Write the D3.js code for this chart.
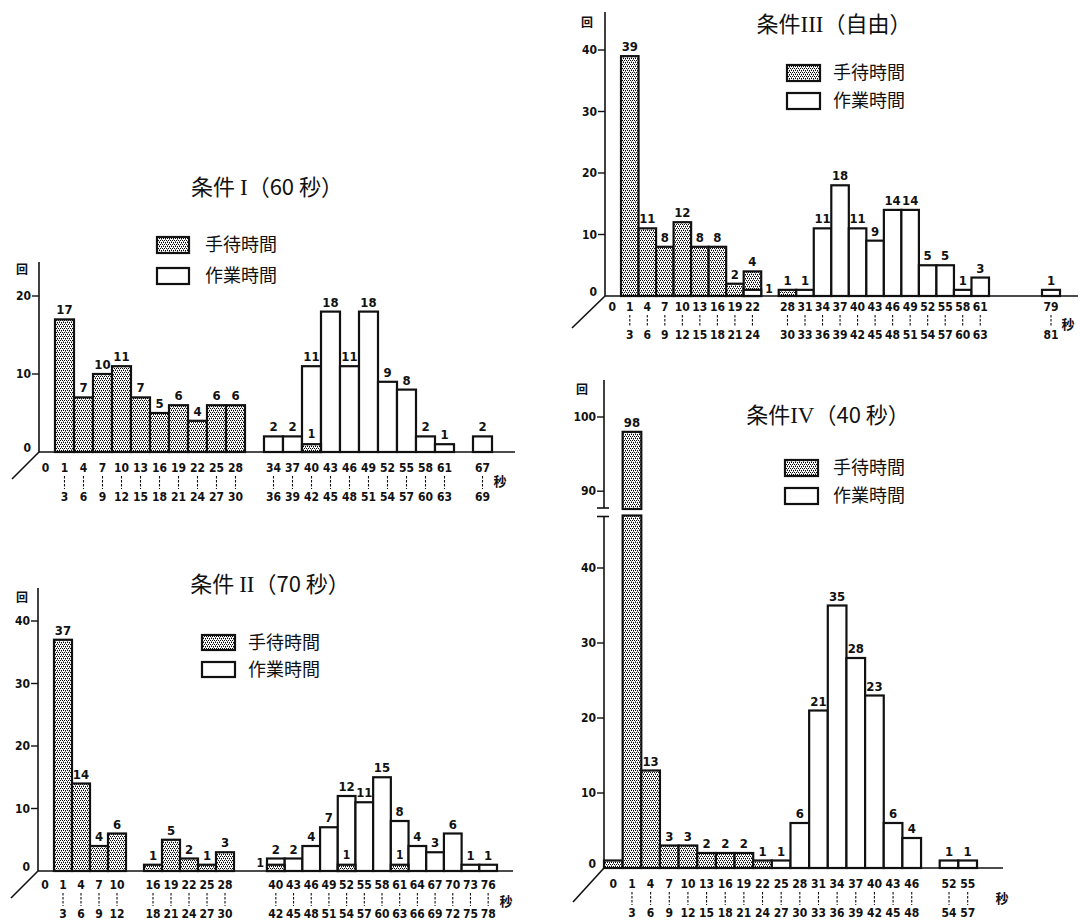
<!DOCTYPE html>
<html>
<head>
<meta charset="utf-8">
<script src="https://cdn.jsdelivr.net/npm/d3@7"></script>
<style>
  body { margin: 0; background: #fff; }
  svg { display: block; }
  .num { font-family: "Liberation Sans Narrow", "DejaVu Sans Condensed", sans-serif; font-weight: bold; fill: #111; }
  .jp  { font-family: "Noto Sans CJK JP", sans-serif; fill: #111; }
</style>
</head>
<body>
<svg id="chart" width="1080" height="921"></svg>
<script>
// Each class is identified by its first second: 0 stands alone, n covers n..n+2.
// Panel I — 60 s cycle
const binsI = [0, 1, 4, 7, 10, 13, 16, 19, 22, 25, 28, 34, 37, 40, 43, 46, 49, 52, 55, 58, 61, 67];
const waitI = [0, 17, 7, 10, 11, 7, 5, 6, 4, 6, 6, 0, 0, 1, 0, 0, 0, 0, 0, 0, 0, 0];
const workI = [0, 0, 0, 0, 0, 0, 0, 0, 0, 0, 0, 2, 2, 11, 18, 11, 18, 9, 8, 2, 1, 2];
const yTicksI = [0, 10, 20];

// Panel II — 70 s cycle
const binsII = [0, 1, 4, 7, 10, 16, 19, 22, 25, 28, 40, 43, 46, 49, 52, 55, 58, 61, 64, 67, 70, 73, 76];
const waitII = [0, 37, 14, 4, 6, 1, 5, 2, 1, 3, 1, 0, 0, 0, 1, 0, 0, 1, 0, 0, 0, 0, 0];
const workII = [0, 0, 0, 0, 0, 0, 0, 0, 0, 0, 2, 2, 4, 7, 12, 11, 15, 8, 4, 3, 6, 1, 1];
const yTicksII = [0, 10, 20, 30, 40];

// Panel III — free pace
const binsIII = [0, 1, 4, 7, 10, 13, 16, 19, 22, 28, 31, 34, 37, 40, 43, 46, 49, 52, 55, 58, 61, 79];
const waitIII = [0, 39, 11, 8, 12, 8, 8, 2, 4, 1, 0, 0, 0, 0, 0, 0, 0, 0, 0, 0, 0, 0];
const workIII = [0, 0, 0, 0, 0, 0, 0, 0, 1, 0, 1, 11, 18, 11, 9, 14, 14, 5, 5, 1, 3, 1];
const yTicksIII = [0, 10, 20, 30, 40];

// Panel IV — 40 s cycle
const binsIV = [0, 1, 4, 7, 10, 13, 16, 19, 22, 25, 28, 31, 34, 37, 40, 43, 46, 52, 55];
const waitIV = [1, 98, 13, 3, 3, 2, 2, 2, 1, 0, 0, 0, 0, 0, 0, 0, 0, 0, 0];
const workIV = [0, 0, 0, 0, 0, 0, 0, 0, 0, 1, 6, 21, 35, 28, 23, 6, 4, 1, 1];
const yTicksIV = [0, 10, 20, 30, 40, 90, 100];

const titleI   = [["条件 ", "jp"], ["I", "serif"], ["（60 秒）", "jp"]];
const titleII  = [["条件 ", "jp"], ["II", "serif"], ["（70 秒）", "jp"]];
const titleIII = [["条件", "jp"], ["III", "serif"], ["（自由）", "jp"]];
const titleIV  = [["条件", "jp"], ["IV", "serif"], ["（40 秒）", "jp"]];

const legendLabels = ["手待時間", "作業時間"];
const unitLabel = "回";
const secLabel = "秒";

const svg = d3.select("#chart");
const defs = svg.append("defs");

// fine half-tone dot fill for waiting time
const pat = defs.append("pattern")
  .attr("id", "stipple").attr("patternUnits", "userSpaceOnUse")
  .attr("width", 4).attr("height", 4);
pat.append("rect").attr("width", 4).attr("height", 4).attr("fill", "#fff");
[[0, 0], [2, 0], [1, 2], [3, 2]].forEach(([a, b]) =>
  pat.append("rect").attr("x", a).attr("y", b).attr("width", 1).attr("height", 1).attr("fill", "#000"));
[[3, 1], [1, 3]].forEach(([a, b]) =>
  pat.append("rect").attr("x", a).attr("y", b).attr("width", 1).attr("height", 1).attr("fill", "#777"));

const slotOf = s => (s === 0 ? 0 : (s + 2) / 3);

const panels = [
  { bins: binsI, wait: waitI, work: workI, yTicks: yTicksI, title: titleI,
    axisX: 39, top: 262, xDom: [0, 24], xRng: [36, 492], yDom: [0, 20], yRng: [452, 296],
    lineEnd: 515, diag: [-27, 27], titlePos: [267, 195],
    legend: { x: 157, y: [237, 268], w: 32, h: 16, tx: 205 },
    unitPos: [22, 270], secPos: [500, 481], rows: [16, 30, 45] },
  { bins: binsII, wait: waitII, work: workII, yTicks: yTicksII, title: titleII,
    axisX: 38, top: 588, xDom: [0, 11, 14, 27], xRng: [36, 234, 267, 497], yDom: [0, 40], yRng: [871, 621],
    lineEnd: 513, diag: [-27, 27], titlePos: [270, 592],
    legend: { x: 202, y: [635, 662], w: 33, h: 15, tx: 248 },
    unitPos: [22, 598], secPos: [506, 901], rows: [14, 30, 43] },
  { bins: binsIII, wait: waitIII, work: workIII, yTicks: yTicksIII, title: titleIII,
    axisX: 605, top: 12, xDom: [0, 22, 27, 28], xRng: [603.5, 989, 1042, 1060], yDom: [0, 40], yRng: [296, 50],
    lineEnd: 1078, diag: [-33, 32], titlePos: [834, 32],
    legend: { x: 787, y: [65, 93], w: 33, h: 16, tx: 833 },
    unitPos: [587, 23], secPos: [1068, 324], rows: [11, 25, 39] },
  { bins: binsIV, wait: waitIV, work: workIV, yTicks: yTicksIV, title: titleIV,
    axisX: 604, top: 380, xDom: [0, 20], xRng: [604, 977], yDom: [0, 47, 87.6, 100], yRng: [868, 515.5, 509, 417],
    yBreak: [47, 87.6],
    lineEnd: 1003, diag: [-31, 34], titlePos: [828, 423],
    legend: { x: 785, y: [460, 488], w: 33, h: 16, tx: 833 },
    unitPos: [582, 390], secPos: [1002, 898], rows: [16, 31, 45] }
];

panels.forEach(p => {
  const g = svg.append("g");
  const x = d3.scaleLinear().domain(p.xDom).range(p.xRng);
  const y = d3.scaleLinear().domain(p.yDom).range(p.yRng);
  const base = y(0);

  // title
  const t = g.append("text").attr("x", p.titlePos[0]).attr("y", p.titlePos[1])
    .attr("text-anchor", "middle").attr("font-size", 22).attr("fill", "#111");
  p.title.forEach(([txt, f]) => {
    t.append("tspan").text(txt)
      .attr("font-family", f === "serif" ? "'Liberation Serif', 'DejaVu Serif', serif" : "'Noto Sans CJK JP', sans-serif")
      .attr("font-size", f === "serif" ? 23 : 22);
  });

  // legend
  legendLabels.forEach((lab, i) => {
    g.append("rect").attr("x", p.legend.x).attr("y", p.legend.y[i])
      .attr("width", p.legend.w).attr("height", p.legend.h)
      .attr("fill", i === 0 ? "url(#stipple)" : "#fff")
      .attr("stroke", "#111").attr("stroke-width", 2.2);
    g.append("text").attr("class", "jp").attr("x", p.legend.tx)
      .attr("y", p.legend.y[i] + p.legend.h / 2).attr("dy", "0.36em")
      .attr("font-size", 18).text(lab);
  });

  // y axis (split where the scale is broken)
  if (p.yBreak) {
    const yb0 = y(p.yBreak[0]), yb1 = y(p.yBreak[1]);
    g.append("line").attr("x1", p.axisX).attr("x2", p.axisX).attr("y1", base).attr("y2", yb0 + 1)
      .attr("stroke", "#111").attr("stroke-width", 1.6);
    g.append("line").attr("x1", p.axisX).attr("x2", p.axisX).attr("y1", yb1 - 1).attr("y2", p.top)
      .attr("stroke", "#111").attr("stroke-width", 1.6);
    [yb0 + 1, yb1 - 1].forEach(yy =>
      g.append("line").attr("x1", p.axisX - 7).attr("x2", p.axisX + 5).attr("y1", yy).attr("y2", yy)
        .attr("stroke", "#111").attr("stroke-width", 1.6));
  } else {
    g.append("line").attr("x1", p.axisX).attr("x2", p.axisX).attr("y1", base).attr("y2", p.top)
      .attr("stroke", "#111").attr("stroke-width", 1.6);
  }
  p.yTicks.forEach(v => {
    const yy = y(v);
    if (v !== 0) {
      g.append("line").attr("x1", p.axisX - 7).attr("x2", p.axisX).attr("y1", yy).attr("y2", yy)
        .attr("stroke", "#111").attr("stroke-width", 1.4);
    }
    g.append("text").attr("class", "num").attr("x", p.axisX - 8).attr("y", v === 0 ? yy - 4 : yy)
      .attr("dy", "0.35em").attr("text-anchor", "end").attr("font-size", 12).text(v);
  });
  g.append("text").attr("class", "jp").attr("x", p.unitPos[0]).attr("y", p.unitPos[1])
    .attr("dy", "0.36em").attr("text-anchor", "middle").attr("font-size", 12)
    .attr("font-weight", "bold").text(unitLabel);

  // base line and perspective stroke
  g.append("line").attr("x1", p.axisX).attr("x2", p.lineEnd).attr("y1", base).attr("y2", base)
    .attr("stroke", "#111").attr("stroke-width", 1.6);
  g.append("line").attr("x1", p.axisX).attr("y1", base)
    .attr("x2", p.axisX + p.diag[0]).attr("y2", base + p.diag[1])
    .attr("stroke", "#111").attr("stroke-width", 1.6);

  // bars: the larger count sits behind, the smaller one in front
  const drawBar = (x0, x1, v, type) => {
    const fill = type === "wait" ? "url(#stipple)" : "#fff";
    const segs = (p.yBreak && v > p.yBreak[1]) ? [[0, p.yBreak[0]], [p.yBreak[1], v]] : [[0, v]];
    segs.forEach(([a, b]) => {
      g.append("rect").attr("x", x0).attr("y", y(b))
        .attr("width", x1 - x0).attr("height", y(a) - y(b))
        .attr("fill", fill).attr("stroke", "#111").attr("stroke-width", 2.2);
    });
  };

  const items = p.bins.map((s, i) => {
    const k = slotOf(s);
    const parts = [{ v: p.wait[i], type: "wait" }, { v: p.work[i], type: "work" }]
      .filter(d => d.v > 0).sort((a, b) => b.v - a.v);
    return { s, x0: x(k), x1: x(k + 1), parts };
  });
  items.forEach(d => { if (d.parts[0]) drawBar(d.x0, d.x1, d.parts[0].v, d.parts[0].type); });
  items.forEach(d => { if (d.parts[1]) drawBar(d.x0, d.x1, d.parts[1].v, d.parts[1].type); });

  // value labels
  items.forEach(d => {
    if (!d.parts.length || d.s === 0) return;
    const cx = (d.x0 + d.x1) / 2;
    g.append("text").attr("class", "num").attr("x", cx).attr("y", y(d.parts[0].v) - 5)
      .attr("text-anchor", "middle").attr("font-size", 13).text(d.parts[0].v);
    if (d.parts[1]) {
      const f = d.parts[1];
      let lx, ly, anchor;
      if (f.type === "wait" && d.parts[0].v - f.v >= 3) { lx = cx; ly = y(f.v) - 6; anchor = "middle"; }
      else if (f.type === "wait") { lx = d.x0 - 3; ly = y(f.v) + 2; anchor = "end"; }
      else { lx = d.x1 + 4; ly = y(f.v) + 3; anchor = "start"; }
      g.append("text").attr("class", "num").attr("x", lx).attr("y", ly)
        .attr("text-anchor", anchor).attr("font-size", 12).text(f.v);
    }
  });

  // class labels under the base line
  p.bins.forEach(s => {
    const cx = x(slotOf(s) + 0.5);
    g.append("text").attr("class", "num").attr("x", cx).attr("y", base + p.rows[0])
      .attr("dy", "0.35em").attr("text-anchor", "middle").attr("font-size", 12).text(s);
    if (s !== 0) {
      g.append("line").attr("x1", cx).attr("x2", cx)
        .attr("y1", base + p.rows[0] + 8).attr("y2", base + p.rows[2] - 8)
        .attr("stroke", "#111").attr("stroke-width", 1.1).attr("stroke-dasharray", "2.5,1.5");
      g.append("text").attr("class", "num").attr("x", cx).attr("y", base + p.rows[2])
        .attr("dy", "0.35em").attr("text-anchor", "middle").attr("font-size", 12).text(s + 2);
    }
  });
  g.append("text").attr("class", "jp").attr("x", p.secPos[0]).attr("y", p.secPos[1])
    .attr("dy", "0.36em").attr("text-anchor", "middle").attr("font-size", 13)
    .attr("font-weight", "bold").text(secLabel);
});
</script>
</body>
</html>
